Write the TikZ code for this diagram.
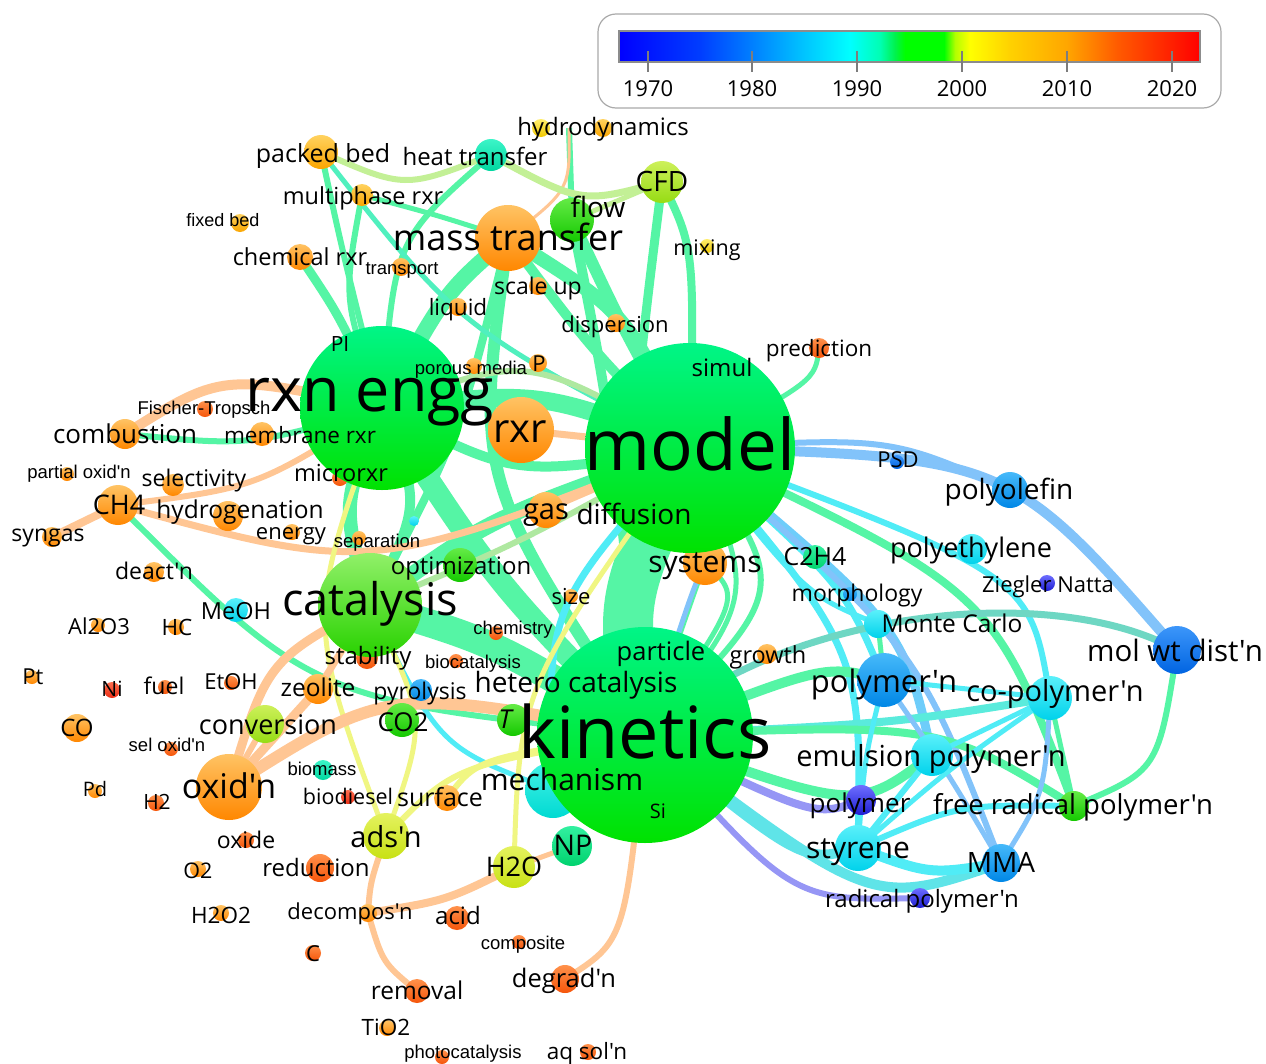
\documentclass[tikz,border=0pt]{standalone}
\usepackage{fontspec}
\newfontfamily\osf{Open Sans}
\newfontfamily\arf{Liberation Sans}
\usetikzlibrary{calc}
\pgfdeclarelayer{bgw}
\pgfdeclarelayer{edges}
\pgfsetlayers{bgw,edges,main}
% node palettes
\definecolor{gBigT}{RGB}{0,245,135}\definecolor{gBigB}{RGB}{0,226,0}
\definecolor{gCatT}{RGB}{145,240,105}\definecolor{gCatB}{RGB}{40,210,0}
\definecolor{orAT}{RGB}{255,195,100}\definecolor{orAB}{RGB}{255,135,0}
\definecolor{orBT}{RGB}{255,210,95}\definecolor{orBB}{RGB}{250,165,0}
\definecolor{orCT}{RGB}{255,145,75}\definecolor{orCB}{RGB}{245,85,10}
\definecolor{yelT}{RGB}{255,238,110}\definecolor{yelB}{RGB}{240,200,0}
\definecolor{grnT}{RGB}{100,235,70}\definecolor{grnB}{RGB}{20,200,0}
\definecolor{ygT}{RGB}{205,240,90}\definecolor{ygB}{RGB}{150,220,20}
\definecolor{tealT}{RGB}{60,245,200}\definecolor{tealB}{RGB}{0,215,160}
\definecolor{cynT}{RGB}{90,240,250}\definecolor{cynB}{RGB}{0,210,235}
\definecolor{mchT}{RGB}{70,242,230}\definecolor{mchB}{RGB}{0,218,210}
\definecolor{bluT}{RGB}{70,185,250}\definecolor{bluB}{RGB}{0,135,230}
\definecolor{dbluT}{RGB}{60,150,250}\definecolor{dbluB}{RGB}{0,100,225}
\definecolor{purT}{RGB}{110,110,255}\definecolor{purB}{RGB}{30,30,210}
\definecolor{tgT}{RGB}{50,240,160}\definecolor{tgB}{RGB}{0,210,110}
\definecolor{ylwT}{RGB}{228,242,95}\definecolor{ylwB}{RGB}{200,225,20}
\definecolor{reddT}{RGB}{255,110,80}\definecolor{reddB}{RGB}{235,45,20}
% edge colours
\definecolor{mintE}{RGB}{85,245,165}
\definecolor{peachE}{RGB}{255,198,148}
\definecolor{yellowE}{RGB}{240,246,130}
\definecolor{cyanE}{RGB}{80,236,246}
\definecolor{cyan2E}{RGB}{95,228,232}
\definecolor{lblueE}{RGB}{130,195,250}
\definecolor{lblue2E}{RGB}{110,205,250}
\definecolor{purpleE}{RGB}{150,150,245}
\definecolor{ygreenE}{RGB}{195,240,150}
\definecolor{ltgreenE}{RGB}{175,232,160}
\definecolor{tealE}{RGB}{80,240,190}
\definecolor{mintblueE}{RGB}{110,215,195}
\definecolor{cymintE}{RGB}{90,235,220}
\definecolor{legendgray}{RGB}{170,170,170}
\definecolor{bargray}{RGB}{140,140,140}
\definecolor{tickgray}{RGB}{125,125,125}
\pgfdeclarehorizontalshading{yearbar}{100bp}{rgb(0bp)=(0,0,1); rgb(25bp)=(0,0,1); rgb(31.97bp)=(0,0.24,1); rgb(36.45bp)=(0,0.5,1); rgb(40.58bp)=(0,0.75,1); rgb(44.88bp)=(0,1,1); rgb(47.46bp)=(0,1,0.7); rgb(48.75bp)=(0,0.95,0.3); rgb(49.61bp)=(0,1,0); rgb(52.97bp)=(0,1,0); rgb(53.92bp)=(0.7,1,0); rgb(55.21bp)=(1,1,0); rgb(58.65bp)=(1,0.82,0); rgb(63.55bp)=(1,0.65,0); rgb(67.98bp)=(1,0.35,0); rgb(75bp)=(1,0,0); rgb(100bp)=(1,0,0)}
\tikzset{
  kw/.style={circle, inner sep=0pt, draw=none},
  lbl/.style={anchor=base, inner sep=0pt, text=black},
}
\newcommand\kn[5]{\node[kw, minimum size={2*#4}, top color=#5T, bottom color=#5B] (#1) at (#2,#3) {};}
\newcommand\lb[5]{\node[lbl,font={\osf\fontsize{#4}{#4}\selectfont}] (L#1) at (#2,{#3+0.28*#4+3}) {#5};}
\newcommand\la[5]{\node[lbl,font={\arf\fontsize{#4}{#4}\selectfont}] (L#1) at (#2,{#3+0.3*#4+1.5}) {#5};}
\newcommand\eM[6]{\draw[#1,line width=#2pt] (#3.center) .. controls ($1.333333*(#5,#6)-0.166667*(#3.center)-0.166667*(#4.center)$) .. (#4.center);}
\newcommand\eS[4]{\draw[#1,line width=#2pt] (#3.center) -- (#4.center);}
\newcommand\eC[8]{\draw[#1,line width=#2pt] (#3.center) .. controls (#5,#6) and (#7,#8) .. (#4.center);}
\begin{document}
\begin{tikzpicture}[x=1pt,y=-1pt]
\useasboundingbox (0,0) rectangle (1266,1063);
\begin{pgfonlayer}{bgw}
\fill[white] (0,0) rectangle (1266,1063);
\end{pgfonlayer}
% ---------- legend
\node[draw=legendgray, rounded corners=18pt, line width=1.2pt, minimum width=623pt, minimum height=94pt, inner sep=0pt] (legend) at (909.5,61) {};
\node[shade, shading=yearbar, draw=bargray, line width=1.6pt, minimum width=581pt, minimum height=31pt, inner sep=0pt] (bar) at (909.5,46.5) {};
\foreach \xx/\yy in {648/1970,752/1980,857/1990,962/2000,1067/2010,1172/2020}{
  \draw[tickgray, line width=2pt] (\xx,51) -- (\xx,72);
  \node[lbl,font={\osf\fontsize{22}{22}\selectfont}] (Y\yy) at (\xx,96) {\yy};
}
% ---------- small nodes
\coordinate (hyd0) at (569,128);
\kn{pb}{321}{152}{17}{orB}
\kn{ht}{491}{155}{16}{teal}
\kn{hydy}{541}{128}{9}{yel}
\kn{hydro}{603}{128}{9}{orB}
\kn{mp}{362}{195}{11}{orB}
\kn{fb}{240}{223}{9}{orB}
\kn{flow}{572}{220}{22}{grn}
\kn{cfd}{662}{182}{21}{yg}
\kn{mt}{508}{238}{33}{orA}
\kn{cr}{300}{257}{13}{orA}
\kn{tr}{401}{267}{9}{orA}
\kn{mix}{707}{246}{7}{yel}
\kn{su}{538}{286}{9}{orA}
\kn{liq}{458}{307}{9}{orA}
\kn{disp}{616}{323}{9}{orA}
\kn{pred}{819}{348}{10}{orC}
\kn{pm}{474}{366}{8}{orA}
\kn{P}{538}{363}{9}{orA}
\kn{ft}{205}{409}{8}{orC}
\kn{comb}{125}{434}{15}{orA}
\kn{mr}{262}{434}{12}{orA}
\kn{rxr}{521}{430}{33}{orA}
\kn{po}{67}{474}{7}{orA}
\kn{sel}{173}{485}{11}{orA}
\kn{micro}{340}{478}{8}{orC}
\kn{ch4}{118}{505}{20}{orA}
\kn{hgn}{228}{516}{15}{orA}
\kn{syn}{52}{537}{10}{orA}
\kn{en}{292}{532}{8}{orA}
\kn{sep}{359}{538}{7}{orA}
\kn{cdot}{414}{521}{5}{cyn}
\kn{gas}{546}{510}{18}{orA}
\kn{deact}{154}{572}{10}{orA}
\kn{opt}{460}{565}{17}{grn}
\kn{sys}{705}{563}{22}{orA}
\kn{c2h4}{815}{557}{12}{tg}
\kn{psd}{897}{462}{7}{dblu}
\kn{polyo}{1010}{490}{18}{blu}
\kn{polye}{972}{549}{15}{cyn}
\kn{zn}{1047}{583}{8}{pur}
\kn{morph}{850}{594}{7}{blu}
\kn{mc}{878}{624}{14}{cyn}
\kn{mwd}{1177}{650}{24}{dblu}
\kn{size}{571}{596}{7}{orA}
\kn{chem}{496}{633}{7}{orC}
\kn{meoh}{236}{610}{12}{cyn}
\kn{al}{98}{625}{7}{orA}
\kn{hc}{176}{627}{8}{orA}
\kn{stab}{367}{658}{11}{orC}
\kn{bioc}{456}{661}{7}{orC}
\kn{growth}{767}{654}{10}{orA}
\kn{pol}{884}{680}{27}{blu}
\kn{cop}{1050}{698}{22}{cyn}
\kn{pt}{32}{677}{7}{orA}
\kn{ni}{112}{690}{8}{redd}
\kn{fuel}{165}{687}{7}{orC}
\kn{etoh}{231}{683}{7}{orC}
\kn{zeo}{318}{689}{15}{orA}
\kn{pyro}{421}{690}{11}{blu}
\kn{T}{513}{720}{16}{grn}
\kn{co}{77}{728}{14}{orA}
\kn{conv}{265}{724}{19}{yg}
\kn{co2}{402}{720}{17}{grn}
\kn{so}{171}{749}{7}{orC}
\kn{ox}{229}{787}{33}{orA}
\kn{biom}{323}{770}{10}{teal}
\kn{pd}{95}{791}{7}{orA}
\kn{h2}{156}{803}{8}{orC}
\kn{biod}{348}{797}{7}{redd}
\kn{surf}{447}{798}{13}{orA}
\kn{emul}{932}{755}{21}{cyn}
\kn{polym}{861}{800}{15}{pur}
\kn{frp}{1074}{806}{15}{grn}
\kn{sty}{858}{848}{23}{cyn}
\kn{mma}{1001}{863}{19}{blu}
\kn{rp}{920}{898}{10}{pur}
\kn{ads}{386}{836}{23}{ylw}
\kn{np}{572}{846}{20}{tg}
\kn{h2o}{514}{867}{21}{ylw}
\kn{oxide}{246}{840}{8}{orC}
\kn{o2}{198}{869}{8}{orA}
\kn{redn}{320}{868}{14}{orC}
\kn{h2o2}{221}{913}{8}{orA}
\kn{dec}{368}{913}{9}{orA}
\kn{acid}{457}{918}{12}{orC}
\kn{comp}{519}{942}{7}{orC}
\kn{cc}{313}{953}{8}{orC}
\kn{degr}{565}{979}{14}{orC}
\kn{rem}{417}{991}{12}{orC}
\kn{tio2}{387}{1028}{8}{orA}
\kn{photo}{442}{1057}{7}{orC}
\kn{aq}{588}{1052}{8}{orC}
\kn{mech}{553}{790}{28}{mch}
% ---------- big nodes
\kn{cat}{370}{605}{52}{gCat}
\kn{rxn}{382}{408}{82}{gBig}
\kn{model}{690}{448}{105}{gBig}
\kn{kin}{645}{735}{108}{gBig}
% ---------- edges
\begin{pgfonlayer}{edges}
\eM{mintE}{50}{model}{kin}{630}{600}
\eM{mintE}{28}{cat}{kin}{500}{650}
\eM{mintE}{22}{rxn}{kin}{500}{580}
\eM{mintE}{18}{rxn}{model}{540}{400}
\eM{mintE}{10}{rxn}{model}{520}{465}
\eM{mintE}{16}{cat}{model}{500}{520}
\eM{mintE}{14}{rxn}{cat}{350}{505}
\eM{mintE}{10}{rxn}{cat}{410}{505}
\eM{mintE}{16}{mt}{rxn}{445}{300}
\eM{mintE}{14}{mt}{model}{620}{320}
\eM{mintE}{10}{mt}{model}{595}{350}
\eM{mintE}{12}{mt}{kin}{500}{480}
\eM{mintE}{8}{mt}{cat}{455}{430}
\eM{mintE}{12}{flow}{model}{625}{330}
\eM{mintE}{10}{flow}{kin}{610}{430}
\eM{mintE}{8}{cfd}{model}{690}{265}
\eM{mintE}{9}{cfd}{kin}{635}{450}
\eM{mintE}{6}{ht}{rxn}{405}{250}
\eM{mintE}{6}{pb}{rxn}{345}{260}
\eM{tealE}{5}{pb}{model}{470}{320}
\eM{mintE}{5}{mp}{mt}{435}{215}
\eM{mintE}{6}{mp}{rxn}{350}{300}
\eM{mintE}{9}{cr}{rxn}{340}{320}
\draw[mintE, line width=6pt] (hyd0) -- (flow.center);
\draw[peachE, line width=3pt] (hyd0) .. controls (570,190) .. (mt.center);
\eM{ygreenE}{6}{pb}{ht}{405}{180}
\eM{ygreenE}{7}{ht}{cfd}{580}{195}
\eS{ygreenE}{5}{flow}{cfd}
\eM{mintE}{5}{pred}{model}{800}{385}
\eS{mintE}{5}{model}{c2h4}
\eM{peachE}{10}{comb}{rxn}{230}{385}
\eM{mintE}{6}{comb}{rxn}{250}{440}
\eM{peachE}{7}{ch4}{model}{380}{550}
\eM{peachE}{6}{ch4}{rxn}{255}{480}
\eS{peachE}{8}{syn}{ch4}
\eM{mintE}{6}{ch4}{kin}{330}{680}
\eM{ltgreenE}{6}{cat}{model}{520}{540}
\eM{ltgreenE}{6}{rxn}{model}{530}{372}
\eS{peachE}{7}{rxr}{model}
\eS{peachE}{6}{gas}{model}
\eM{mintE}{6}{model}{kin}{760}{590}
\eM{mintE}{5}{model}{kin}{735}{595}
\eM{mintE}{5}{sys}{kin}{690}{605}
\eM{mintE}{5}{sys}{kin}{725}{610}
\eM{lblueE}{5}{sys}{kin}{688}{605}
\eM{cyanE}{7}{model}{mech}{565}{610}
\eM{cyanE}{5}{cat}{mech}{445}{735}
\eM{yellowE}{6}{ads}{kin}{470}{770}
\eM{yellowE}{6}{surf}{kin}{495}{760}
\eM{yellowE}{5}{h2o}{model}{540}{680}
\eM{yellowE}{5}{ads}{rxn}{325}{620}
\eM{yellowE}{5}{ads}{cat}{415}{720}
\eS{peachE}{5}{h2o}{np}
\eM{peachE}{8}{h2o}{dec}{445}{898}
\eM{peachE}{6}{ads}{dec}{372}{880}
\eM{peachE}{6}{dec}{rem}{385}{960}
\eM{peachE}{6}{kin}{degr}{620}{920}
\eM{peachE}{9}{ox}{cat}{275}{670}
\eS{peachE}{9}{ox}{zeo}
\eS{peachE}{7}{zeo}{cat}
\eM{peachE}{12}{ox}{kin}{400}{705}
\eS{peachE}{6}{ox}{conv}
% right side
\eM{lblueE}{10}{model}{mwd}{990}{480}
\eM{lblueE}{6}{model}{polyo}{880}{445}
\eM{cyanE}{6}{model}{cop}{990}{575}
\eM{mintE}{8}{model}{frp}{965}{600}
\eM{cyanE}{7}{model}{pol}{830}{580}
\eM{lblue2E}{9}{model}{emul}{880}{620}
\eM{cyanE}{7}{model}{sty}{840}{650}
\eM{lblueE}{6}{model}{mma}{900}{650}
\eM{cyanE}{5}{model}{mc}{800}{580}
\eC{mintblueE}{7}{kin}{mwd}{780}{610}{1050}{580}
\eM{mintE}{10}{kin}{pol}{810}{675}
\eM{cymintE}{8}{kin}{cop}{880}{722}
\eM{mintE}{8}{kin}{frp}{920}{735}
\eM{mintE}{10}{kin}{emul}{840}{795}
\eM{purpleE}{8}{kin}{polym}{800}{805}
\eM{cyan2E}{10}{kin}{sty}{790}{845}
\eM{cyan2E}{10}{kin}{mma}{860}{880}
\eM{purpleE}{6}{kin}{rp}{790}{880}
\eM{cyanE}{5}{pol}{sty}{866}{760}
\eM{lblueE}{5}{pol}{mma}{945}{770}
\eS{cyanE}{5}{pol}{cop}
\eS{mintE}{5}{mc}{pol}
\eS{cyanE}{6}{emul}{sty}
\eS{cyanE}{5}{emul}{cop}
\eS{mintE}{5}{cop}{frp}
\eM{mintE}{6}{mwd}{frp}{1150}{760}
\eM{cyanE}{6}{sty}{frp}{960}{810}
\eM{cyanE}{5}{cop}{sty}{950}{770}
\eM{lblueE}{5}{cop}{mma}{1040}{790}
\eM{cyanE}{10}{sty}{mma}{930}{870}
\end{pgfonlayer}
% ---------- labels
\lb{pb}{323}{152}{25}{packed bed}
\lb{ht}{475}{156}{24}{heat transfer}
\lb{hydro}{603}{126}{24}{hydrodynamics}
\lb{mp}{363}{195}{23.5}{multiphase rxr}
\la{fb}{223}{220}{18}{fixed bed}
\lb{flow}{598}{207}{28}{flow}
\lb{cfd}{662}{181}{28}{CFD}
\lb{mt}{508}{237}{36}{mass transfer}
\lb{cr}{300}{256}{23.5}{chemical rxr}
\la{tr}{402}{267}{18.5}{transport}
\lb{mix}{707}{246}{21.5}{mixing}
\lb{su}{538}{285}{23}{scale up}
\lb{liq}{458}{306}{22.5}{liquid}
\lb{disp}{615}{323}{22}{dispersion}
\lb{pred}{819}{347}{22.5}{prediction}
\lb{PI}{340}{343}{21}{PI}
\lb{simul}{722}{367}{24}{simul}
\la{pm}{471}{367}{18.5}{porous media}
\lb{P}{539}{362}{22}{P}
\lb{rxn}{370}{391}{61}{rxn engg}
\la{ft}{204}{407}{18.5}{Fischer-Tropsch}
\lb{comb}{125}{433}{26}{combustion}
\lb{mr}{300}{434}{22.5}{membrane rxr}
\lb{rxr}{520}{428}{40}{rxr}
\lb{model}{690}{448}{71}{model}
\la{po}{79}{471}{18.5}{partial oxid'n}
\lb{sel}{194}{477}{23}{selectivity}
\lb{micro}{341}{472}{23.5}{microrxr}
\lb{ch4}{119}{504}{27}{CH4}
\lb{hgn}{240}{509}{24.5}{hydrogenation}
\lb{syn}{48}{532}{23}{syngas}
\lb{en}{291}{530}{22}{energy}
\la{sep}{377}{540}{18.5}{separation}
\lb{deact}{154}{570}{23}{deact'n}
\lb{opt}{461}{565}{24}{optimization}
\lb{gas}{546}{508}{29}{gas}
\lb{diff}{634}{514}{28}{diffusion}
\lb{sys}{705}{561}{30}{systems}
\lb{c2h4}{815}{555}{25}{C2H4}
\lb{psd}{898}{458}{22}{PSD}
\lb{polyo}{1009}{489}{28}{polyolefin}
\lb{polye}{971}{547}{27}{polyethylene}
\lb{zn}{1048}{583}{22}{Ziegler Natta}
\lb{morph}{857}{592}{23}{morphology}
\lb{mc}{952}{623}{24.5}{Monte Carlo}
\lb{mwd}{1175}{650}{29.5}{mol wt dist'n}
\lb{cat}{370}{600}{45}{catalysis}
\lb{size}{571}{595}{22}{size}
\la{chem}{513}{627}{18.5}{chemistry}
\lb{meoh}{236}{610}{23.5}{MeOH}
\lb{al}{99}{625}{22}{Al2O3}
\lb{hc}{177}{626}{22.5}{HC}
\lb{stab}{368}{655}{24}{stability}
\la{bioc}{473}{661}{18.5}{biocatalysis}
\lb{part}{661}{650}{25.5}{particle}
\lb{growth}{768}{654}{23.5}{growth}
\lb{pol}{884}{681}{31}{polymer'n}
\lb{cop}{1055}{690}{29}{co-polymer'n}
\lb{pt}{33}{675}{22}{Pt}
\lb{ni}{112}{688}{21}{Ni}
\lb{fuel}{164}{685}{23}{fuel}
\lb{etoh}{231}{680}{22}{EtOH}
\lb{zeo}{318}{687}{24.5}{zeolite}
\lb{pyro}{420}{690}{23}{pyrolysis}
\lb{hetc}{576}{682}{28}{hetero catalysis}
\lb{T}{505}{718}{26}{\itshape T}
\lb{kin}{645}{735}{72}{kinetics}
\lb{co}{77}{727}{24}{CO}
\lb{conv}{268}{724}{27}{conversion}
\lb{co2}{403}{721}{26}{CO2}
\la{so}{167}{744}{18.5}{sel oxid'n}
\lb{ox}{229}{786}{34}{oxid'n}
\la{biom}{322}{768}{18.5}{biomass}
\lb{pd}{95}{788}{20}{Pd}
\lb{h2}{157}{801}{21}{H2}
\lb{biod}{348}{795}{21.5}{biodiesel}
\lb{surf}{440}{796}{25}{surface}
\lb{mech}{562}{779}{30}{mechanism}
\lb{Si}{658}{810}{20}{Si}
\lb{emul}{931}{755}{29}{emulsion polymer'n}
\lb{polym}{860}{802}{26}{polymer}
\lb{frp}{1073}{804}{27.5}{free radical polymer'n}
\lb{sty}{858}{847}{30}{styrene}
\lb{mma}{1001}{862}{28}{MMA}
\lb{rp}{922}{898}{24}{radical polymer'n}
\lb{ads}{386}{836}{29}{ads'n}
\lb{np}{573}{845}{28.5}{NP}
\lb{h2o}{514}{866}{27}{H2O}
\lb{oxide}{246}{839}{23}{oxide}
\lb{o2}{198}{869}{21.5}{O2}
\lb{redn}{316}{867}{24}{reduction}
\lb{h2o2}{221}{914}{22.5}{H2O2}
\lb{dec}{350}{910}{22}{decompos'n}
\lb{acid}{458}{915}{24}{acid}
\la{comp}{523}{942}{18.5}{composite}
\lb{cc}{313}{952}{22}{C}
\lb{degr}{564}{977}{25.5}{degrad'n}
\lb{rem}{417}{990}{24.5}{removal}
\lb{tio2}{386}{1026}{22.5}{TiO2}
\la{photo}{463}{1051}{18.5}{photocatalysis}
\lb{aq}{587}{1050}{22.5}{aq sol'n}
\end{tikzpicture}
\end{document}
